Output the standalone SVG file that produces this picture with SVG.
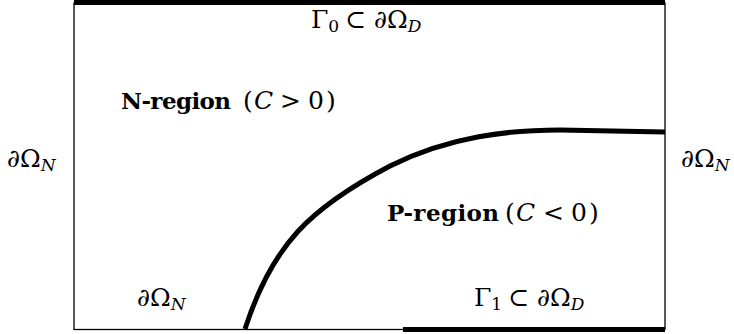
<svg xmlns="http://www.w3.org/2000/svg" width="734" height="334" viewBox="0 0 734 334">
<style>
text{font-family:"DejaVu Serif","Liberation Serif",serif;font-size:25px;fill:#000}
.b{font-weight:bold;font-size:23px}
.i{font-style:italic}
.s{font-size:17px}
.si{font-size:17px;font-style:italic}
.thin{stroke:#000;stroke-width:1.3;fill:none}
.thick{stroke:#000;stroke-width:5;fill:none}
</style>
<rect width="734" height="334" fill="#fff"/>
<g id="domain">
<rect class="thin" x="74" y="3" width="591" height="326.5"/>
</g>
<g id="connectors">
<line id="gamma0" class="thick" x1="74" y1="2.5" x2="665" y2="2.5"/>
<line id="gamma1" class="thick" x1="403" y1="329.5" x2="665" y2="329.5"/>
<path id="interface" class="thick" stroke-width="4" d="M245,329 C272,245 310,208 390,166 C450,136 510,130 560,130 L665,132"/>
</g>
<g id="label-gamma0">
<text x="311" y="28">Γ<tspan class="s" dy="4">0</tspan></text><text x="345" y="28">⊂</text><text x="374" y="28">∂Ω<tspan class="si" dy="4">D</tspan></text>
</g>
<g id="label-nregion">
<text class="b" x="121" y="109" textLength="110">N-region</text><text x="243" y="109">(</text><text class="i" x="254" y="109">C</text><text x="280" y="109">&gt;</text><text x="308" y="109">0</text><text x="326" y="109">)</text>
</g>
<g id="label-left">
<text x="7" y="167">∂Ω<tspan class="si" dy="4">N</tspan></text>
</g>
<g id="label-right">
<text x="681" y="167">∂Ω<tspan class="si" dy="4">N</tspan></text>
</g>
<g id="label-pregion">
<text class="b" x="387" y="221" textLength="112">P-region</text><text x="505" y="221">(</text><text class="i" x="516" y="221">C</text><text x="543" y="221">&lt;</text><text x="571" y="221">0</text><text x="589" y="221">)</text>
</g>
<g id="label-bottom-left">
<text x="137" y="306">∂Ω<tspan class="si" dy="4">N</tspan></text>
</g>
<g id="label-gamma1">
<text x="474" y="306">Γ<tspan class="s" dy="4">1</tspan></text><text x="508" y="306">⊂</text><text x="537" y="306">∂Ω<tspan class="si" dy="4">D</tspan></text>
</g>
</svg>
